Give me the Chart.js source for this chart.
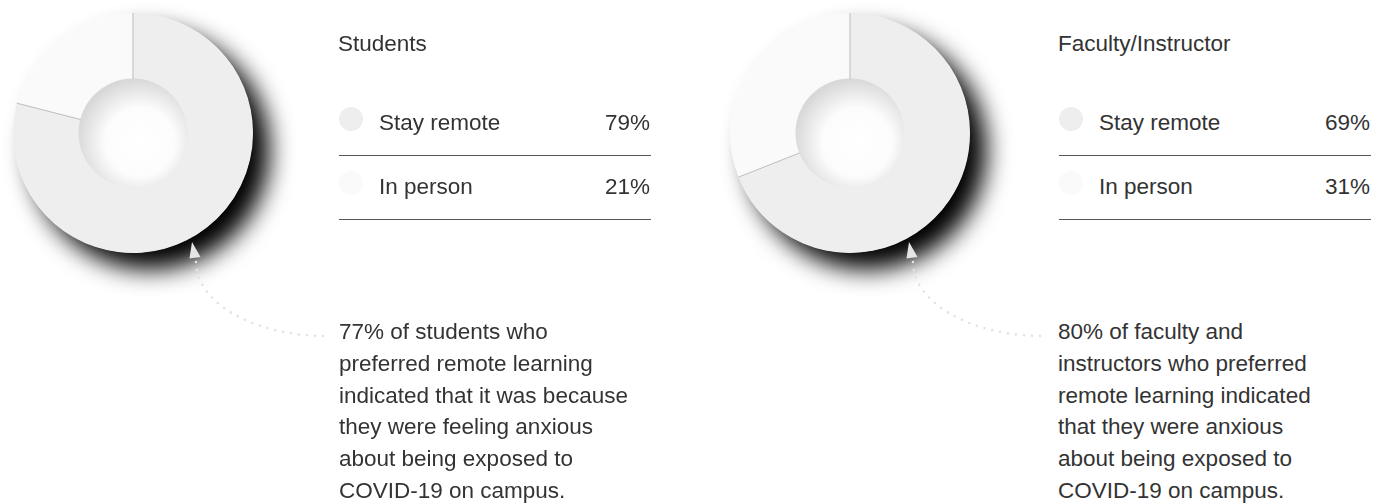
<!DOCTYPE html>
<html>
<head>
<meta charset="utf-8">
<script src="https://cdn.jsdelivr.net/npm/chart.js@4.4.0/dist/chart.umd.min.js"></script>
<style>
  html, body { margin: 0; padding: 0; background: #fff; }
  body {
    width: 1385px; height: 504px; overflow: hidden; position: relative;
    font-family: "Liberation Sans", Arial, Helvetica, sans-serif; color: #333;
  }
  .donut { position: absolute; top: 0; width: 340px; height: 345px; }
  .title { position: absolute; top: 33px; font-size: 22.5px; line-height: 22px; white-space: nowrap; }
  .legend { position: absolute; top: 92px; width: 312px; }
  .row { position: relative; height: 63px; border-bottom: 1px solid #555; font-size: 22.5px; line-height: 22px; }
  .dot { position: absolute; left: 0; top: 15px; width: 24px; height: 24px; border-radius: 50%; }
  .label { position: absolute; left: 40px; top: 20px; white-space: nowrap; }
  .pct { position: absolute; right: 1px; top: 20px; }
  .note { position: absolute; top: 316px; font-size: 22.5px; line-height: 31.8px; white-space: nowrap; }
</style>
</head>
<body>

<div class="donut" style="left:0"><canvas id="studentsChart"></canvas></div>
<div class="donut" style="left:717px"><canvas id="facultyChart"></canvas></div>

<div class="note" style="left:339px">77% of students who<br>preferred remote learning<br>indicated that it was because<br>they were feeling anxious<br>about being exposed to<br>COVID-19 on campus.</div>
<div class="note" style="left:1058px">80% of faculty and<br>instructors who preferred<br>remote learning indicated<br>that they were anxious<br>about being exposed to<br>COVID-19 on campus.</div>

<script>
const categories = ['Stay remote', 'In person'];
const studentValues = [79, 21];
const facultyValues = [69, 31];
const groupTitles = ['Students', 'Faculty/Instructor'];
const sliceColors = ['#eeeeee', '#fafafa'];

// shadow under the ring, the shaded hole, the slice separators and the little arrow
const donutDecor = {
    id: 'donutDecor',
    beforeDatasetsDraw(chart) {
        const ctx = chart.ctx;
        const arc = chart.getDatasetMeta(0).data[0];
        const { x, y, outerRadius } = arc.getProps(['x', 'y', 'outerRadius'], true);
        ctx.save();
        ctx.shadowColor = 'rgba(0,0,0,1)';
        ctx.shadowBlur = 24;
        ctx.shadowOffsetX = 17;
        ctx.shadowOffsetY = 17;
        ctx.fillStyle = sliceColors[0];
        ctx.beginPath();
        ctx.arc(x, y, outerRadius - 0.5, 0, Math.PI * 2);
        ctx.fill();
        ctx.restore();
    },
    afterDatasetsDraw(chart) {
        const ctx = chart.ctx;
        const arcs = chart.getDatasetMeta(0).data;
        const { x, y, innerRadius, outerRadius } = arcs[0].getProps(['x', 'y', 'innerRadius', 'outerRadius'], true);

        // hole
        ctx.save();
        const g = ctx.createRadialGradient(x + 7, y + 9, 0, x + 7, y + 9, innerRadius + 9);
        g.addColorStop(0, '#ffffff');
        g.addColorStop(0.55, '#fcfcfc');
        g.addColorStop(1, '#d8d8d8');
        ctx.fillStyle = g;
        ctx.beginPath();
        ctx.arc(x, y, innerRadius + 0.5, 0, Math.PI * 2);
        ctx.fill();
        ctx.restore();

        // separators
        ctx.save();
        ctx.strokeStyle = '#bdbdbd';
        ctx.lineWidth = 1;
        arcs.forEach(a => {
            const { startAngle } = a.getProps(['startAngle'], true);
            ctx.beginPath();
            ctx.moveTo(x + Math.cos(startAngle) * innerRadius, y + Math.sin(startAngle) * innerRadius);
            ctx.lineTo(x + Math.cos(startAngle) * outerRadius, y + Math.sin(startAngle) * outerRadius);
            ctx.stroke();
        });
        ctx.restore();

        // arrow head
        ctx.save();
        ctx.fillStyle = '#e4e4e4';
        ctx.beginPath();
        ctx.moveTo(x + 59, y + 109);
        ctx.lineTo(x + 67.5, y + 124);
        ctx.lineTo(x + 56.5, y + 125.5);
        ctx.closePath();
        ctx.fill();

        // dotted curve down to the note
        ctx.strokeStyle = '#e2e2e2';
        ctx.lineWidth = 2.6;
        ctx.lineCap = 'round';
        ctx.setLineDash([0, 8]);
        ctx.beginPath();
        ctx.ellipse(x + 193, y + 129, 130, 74, 0, Math.PI, Math.PI / 2, true);
        ctx.stroke();
        ctx.restore();
    }
};

function makeDonut(id, values) {
    return new Chart(document.getElementById(id), {
        type: 'doughnut',
        data: {
            labels: categories,
            datasets: [{
                data: values,
                backgroundColor: sliceColors,
                borderWidth: 0,
                hoverOffset: 0
            }]
        },
        options: {
            responsive: true,
            maintainAspectRatio: false,
            animation: false,
            events: [],
            radius: 120,
            cutout: 54,
            layout: { padding: { left: 13, top: 13, right: 87, bottom: 92 } },
            plugins: {
                legend: { display: false },
                tooltip: { enabled: false }
            }
        },
        plugins: [donutDecor]
    });
}

function makeLegend(title, values, left) {
    const t = document.createElement('div');
    t.className = 'title';
    t.style.left = (left - 1) + 'px';
    t.textContent = title;
    document.body.appendChild(t);

    const box = document.createElement('div');
    box.className = 'legend';
    box.style.left = left + 'px';
    categories.forEach((c, i) => {
        const row = document.createElement('div');
        row.className = 'row';
        row.innerHTML = `<span class="dot" style="background:${sliceColors[i]}"></span>` +
            `<span class="label">${c}</span><span class="pct">${values[i]}%</span>`;
        box.appendChild(row);
    });
    document.body.appendChild(box);
}

makeDonut('studentsChart', studentValues);
makeDonut('facultyChart', facultyValues);
makeLegend(groupTitles[0], studentValues, 339);
makeLegend(groupTitles[1], facultyValues, 1059);
</script>
</body>
</html>
